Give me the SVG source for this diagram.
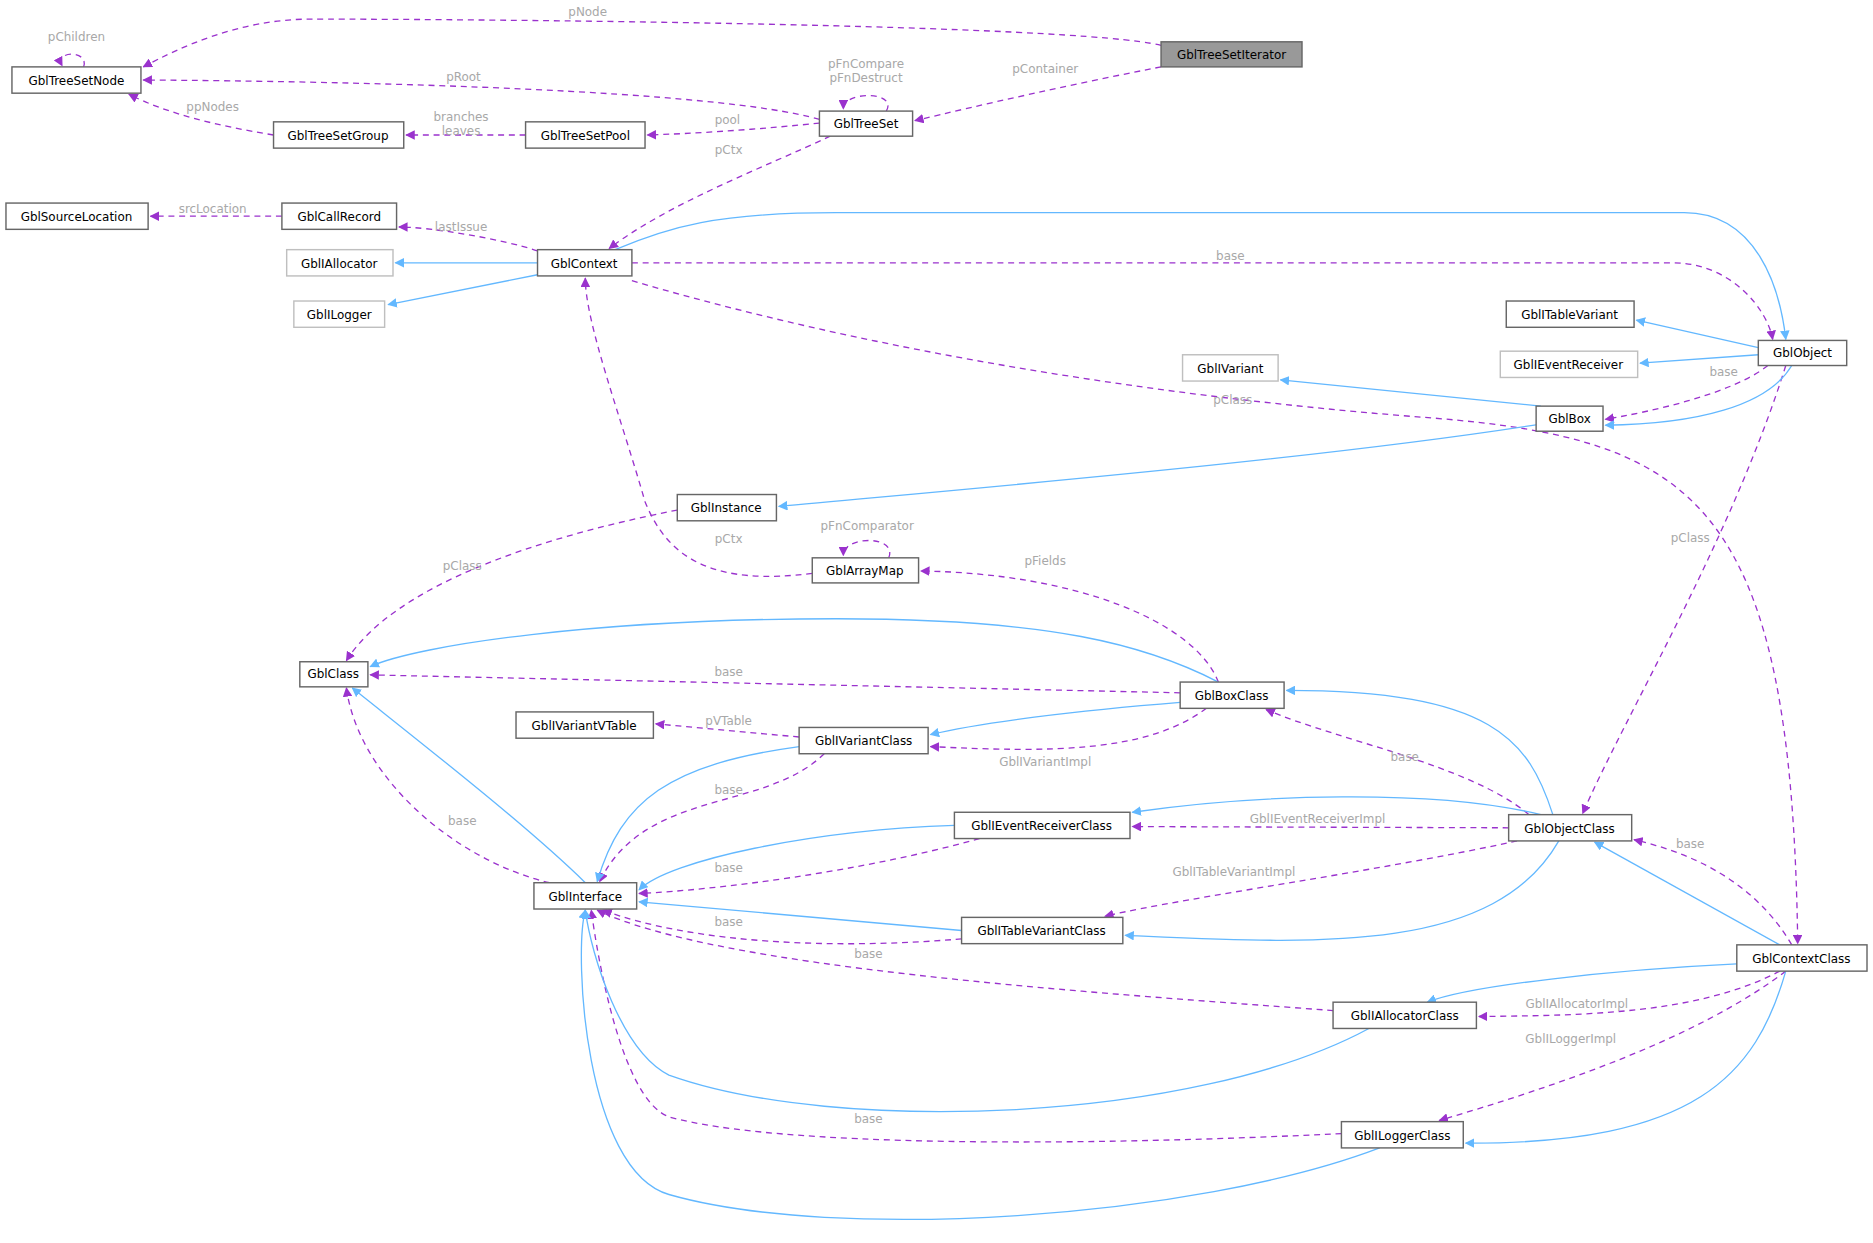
<svg xmlns="http://www.w3.org/2000/svg" width="1873" height="1243" viewBox="0 0 1873 1243">
<style>
.n rect{fill:#fff;stroke:#666;stroke-width:1.2}
.n.l rect{stroke:#bfbfbf}
.n.c rect{fill:#999;stroke:#666}
text{font-family:"DejaVu Sans","Liberation Sans",sans-serif;font-size:10px}
.n text{text-anchor:middle;fill:#000}
.b{fill:none;stroke:#63b8ff;stroke-width:1.1;marker-end:url(#ab)}
.d{fill:none;stroke:#9a32cd;stroke-width:1.1;stroke-dasharray:5,4;marker-end:url(#ap)}
.lb{fill:#a8a8a8;text-anchor:middle}
</style>
<defs>
<marker id="ab" viewBox="0 0 10 10" refX="9" refY="5" markerWidth="8" markerHeight="8" orient="auto" markerUnits="userSpaceOnUse"><path d="M0,0L10,5L0,10z" fill="#63b8ff"/></marker>
<marker id="ap" viewBox="0 0 10 10" refX="9" refY="5" markerWidth="8" markerHeight="8" orient="auto" markerUnits="userSpaceOnUse"><path d="M0,0L10,5L0,10z" fill="#9a32cd"/></marker>
</defs>
<rect width="1873" height="1243" fill="#fff"/>
<g transform="scale(1.1945)">
<g id="edges">
<path class="d" d="M972,38 C900,20 400,16 260,16 C200,16 150,40 120,56"/>
<path class="d" d="M972,56 C900,70 820,88 766,101"/>
<path class="d" d="M742,93 C752,76 706,76 706,91"/>
<path class="d" d="M686,100 C600,75 300,68 120,67"/>
<path class="d" d="M686,103 C640,108 580,112 542,113"/>
<path class="d" d="M695,114 C640,140 560,170 510,208"/>
<path class="d" d="M440,113 L340,113"/>
<path class="d" d="M229,113 C180,105 140,95 108,79"/>
<path class="d" d="M70,56 C75,42 45,42 52,55"/>
<path class="d" d="M236,181 L126,181"/>
<path class="d" d="M450,210 C420,200 360,190 334,190"/>
<path class="d" d="M529,220 L1400,220 C1450,220 1480,260 1484,284"/>
<path class="d" d="M529,235 C750,300 1000,335 1200,350 C1420,368 1500,420 1505,790"/>
<path class="d" d="M680,480 C600,490 560,470 540,420 C520,350 490,270 490,233"/>
<path class="d" d="M744,467 C752,448 706,448 706,465"/>
<path class="d" d="M1020,571 C1000,520 900,480 771,478"/>
<path class="d" d="M567,427 C450,450 330,490 290,553"/>
<path class="d" d="M1480,306 C1450,330 1380,345 1344,351"/>
<path class="d" d="M1495,306 C1450,450 1360,600 1325,681"/>
<path class="d" d="M988,580 L310,565"/>
<path class="d" d="M1010,593 C960,630 880,630 779,625"/>
<path class="d" d="M669,617 L549,606"/>
<path class="d" d="M690,631 C640,680 540,660 502,738"/>
<path class="d" d="M460,739 C380,720 300,650 290,576"/>
<path class="d" d="M1280,682 C1230,640 1120,620 1060,594"/>
<path class="d" d="M1263,693 L948,692"/>
<path class="d" d="M1270,704 C1150,730 1000,750 925,767"/>
<path class="d" d="M820,702 C720,730 600,745 535,748"/>
<path class="d" d="M805,786 C700,795 580,790 505,762"/>
<path class="d" d="M1116,846 C900,830 600,810 500,762"/>
<path class="d" d="M1123,949 C900,960 650,960 560,935 C520,920 500,800 495,762"/>
<path class="d" d="M1500,791 C1470,740 1420,715 1368,703"/>
<path class="d" d="M1490,813 C1420,850 1320,850 1238,851"/>
<path class="d" d="M1495,813 C1420,870 1300,910 1205,938"/>
<path class="b" d="M515,209 C560,190 600,178 700,178 L1410,178 C1470,178 1490,240 1495,284"/>
<path class="b" d="M450,220 L331,220"/>
<path class="b" d="M450,230 L325,255"/>
<path class="b" d="M1472,291 L1370,268"/>
<path class="b" d="M1472,297 L1373,304"/>
<path class="b" d="M1500,306 C1480,340 1420,355 1344,356"/>
<path class="b" d="M1290,340 L1072,318"/>
<path class="b" d="M1290,355 C1100,385 800,410 652,424"/>
<path class="b" d="M1020,571 C960,540 880,518 700,518 C500,518 350,540 310,558"/>
<path class="b" d="M988,588 C900,595 820,605 779,615"/>
<path class="b" d="M669,625 C560,640 520,670 500,738"/>
<path class="b" d="M490,739 C440,690 350,620 295,576"/>
<path class="b" d="M1300,682 C1280,620 1250,578 1077,578"/>
<path class="b" d="M1290,682 C1200,660 1050,665 948,680"/>
<path class="b" d="M1305,704 C1250,800 1100,790 942,783"/>
<path class="b" d="M799,691 C680,695 560,720 535,745"/>
<path class="b" d="M805,779 L535,755"/>
<path class="b" d="M1490,791 L1335,705"/>
<path class="b" d="M1454,807 C1350,812 1230,825 1195,839"/>
<path class="b" d="M1495,813 C1470,900 1420,958 1227,957"/>
<path class="b" d="M1146,861 C1000,940 700,950 560,900 C520,880 495,800 490,762"/>
<path class="b" d="M1155,961 C1000,1020 700,1040 560,1000 C490,980 480,800 490,762"/>
</g>
<g id="labels">
<text class="lb" x="492" y="13">pNode</text>
<text class="lb" x="875" y="61">pContainer</text>
<text class="lb" x="725" y="57">pFnCompare</text>
<text class="lb" x="725" y="69">pFnDestruct</text>
<text class="lb" x="388" y="68">pRoot</text>
<text class="lb" x="609" y="104">pool</text>
<text class="lb" x="610" y="129">pCtx</text>
<text class="lb" x="386" y="101">branches</text>
<text class="lb" x="386" y="113">leaves</text>
<text class="lb" x="178" y="93">ppNodes</text>
<text class="lb" x="64" y="34">pChildren</text>
<text class="lb" x="178" y="178">srcLocation</text>
<text class="lb" x="386" y="193">lastIssue</text>
<text class="lb" x="1030" y="218">base</text>
<text class="lb" x="1032" y="338">pClass</text>
<text class="lb" x="610" y="455">pCtx</text>
<text class="lb" x="726" y="444">pFnComparator</text>
<text class="lb" x="875" y="473">pFields</text>
<text class="lb" x="387" y="477">pClass</text>
<text class="lb" x="1443" y="315">base</text>
<text class="lb" x="1415" y="454">pClass</text>
<text class="lb" x="610" y="566">base</text>
<text class="lb" x="875" y="641">GblIVariantImpl</text>
<text class="lb" x="610" y="607">pVTable</text>
<text class="lb" x="610" y="665">base</text>
<text class="lb" x="387" y="691">base</text>
<text class="lb" x="1176" y="637">base</text>
<text class="lb" x="1103" y="689">GblIEventReceiverImpl</text>
<text class="lb" x="1033" y="733">GblITableVariantImpl</text>
<text class="lb" x="610" y="730">base</text>
<text class="lb" x="610" y="775">base</text>
<text class="lb" x="727" y="802">base</text>
<text class="lb" x="727" y="940">base</text>
<text class="lb" x="1415" y="710">base</text>
<text class="lb" x="1320" y="844">GblIAllocatorImpl</text>
<text class="lb" x="1315" y="873">GblILoggerImpl</text>
</g>
<g id="GblTreeSetNode" class="n"><rect x="10" y="56" width="108" height="22"/><text x="64" y="71">GblTreeSetNode</text></g>
<g id="GblTreeSetIterator" class="n c"><rect x="972" y="35" width="118" height="21"/><text x="1031" y="49">GblTreeSetIterator</text></g>
<g id="GblTreeSet" class="n"><rect x="686" y="93" width="78" height="21"/><text x="725" y="107">GblTreeSet</text></g>
<g id="GblTreeSetGroup" class="n"><rect x="229" y="102" width="109" height="22"/><text x="283" y="117">GblTreeSetGroup</text></g>
<g id="GblTreeSetPool" class="n"><rect x="440" y="102" width="100" height="22"/><text x="490" y="117">GblTreeSetPool</text></g>
<g id="GblSourceLocation" class="n"><rect x="5" y="170" width="119" height="22"/><text x="64" y="185">GblSourceLocation</text></g>
<g id="GblCallRecord" class="n"><rect x="236" y="170" width="96" height="22"/><text x="284" y="185">GblCallRecord</text></g>
<g id="GblIAllocator" class="n l"><rect x="240" y="209" width="89" height="22"/><text x="284" y="224">GblIAllocator</text></g>
<g id="GblContext" class="n"><rect x="450" y="209" width="79" height="22"/><text x="489" y="224">GblContext</text></g>
<g id="GblILogger" class="n l"><rect x="246" y="252" width="76" height="22"/><text x="284" y="267">GblILogger</text></g>
<g id="GblITableVariant" class="n"><rect x="1261" y="252" width="107" height="22"/><text x="1314" y="267">GblITableVariant</text></g>
<g id="GblObject" class="n"><rect x="1472" y="285" width="74" height="21"/><text x="1509" y="299">GblObject</text></g>
<g id="GblIEventReceiver" class="n l"><rect x="1256" y="294" width="115" height="22"/><text x="1313" y="309">GblIEventReceiver</text></g>
<g id="GblIVariant" class="n l"><rect x="990" y="297" width="80" height="22"/><text x="1030" y="312">GblIVariant</text></g>
<g id="GblBox" class="n"><rect x="1286" y="340" width="56" height="21"/><text x="1314" y="354">GblBox</text></g>
<g id="GblInstance" class="n"><rect x="567" y="414" width="83" height="22"/><text x="608" y="429">GblInstance</text></g>
<g id="GblArrayMap" class="n"><rect x="680" y="467" width="89" height="21"/><text x="724" y="481">GblArrayMap</text></g>
<g id="GblClass" class="n"><rect x="251" y="554" width="57" height="21"/><text x="279" y="568">GblClass</text></g>
<g id="GblBoxClass" class="n"><rect x="988" y="571" width="87" height="22"/><text x="1031" y="586">GblBoxClass</text></g>
<g id="GblIVariantVTable" class="n"><rect x="432" y="596" width="115" height="22"/><text x="489" y="611">GblIVariantVTable</text></g>
<g id="GblIVariantClass" class="n"><rect x="669" y="609" width="108" height="22"/><text x="723" y="624">GblIVariantClass</text></g>
<g id="GblIEventReceiverClass" class="n"><rect x="799" y="680" width="147" height="22"/><text x="872" y="695">GblIEventReceiverClass</text></g>
<g id="GblObjectClass" class="n"><rect x="1263" y="682" width="103" height="22"/><text x="1314" y="697">GblObjectClass</text></g>
<g id="GblInterface" class="n"><rect x="447" y="739" width="86" height="22"/><text x="490" y="754">GblInterface</text></g>
<g id="GblITableVariantClass" class="n"><rect x="805" y="768" width="135" height="22"/><text x="872" y="783">GblITableVariantClass</text></g>
<g id="GblContextClass" class="n"><rect x="1454" y="791" width="109" height="22"/><text x="1508" y="806">GblContextClass</text></g>
<g id="GblIAllocatorClass" class="n"><rect x="1116" y="839" width="120" height="22"/><text x="1176" y="854">GblIAllocatorClass</text></g>
<g id="GblILoggerClass" class="n"><rect x="1123" y="939" width="102" height="22"/><text x="1174" y="954">GblILoggerClass</text></g>
</g>
</svg>
